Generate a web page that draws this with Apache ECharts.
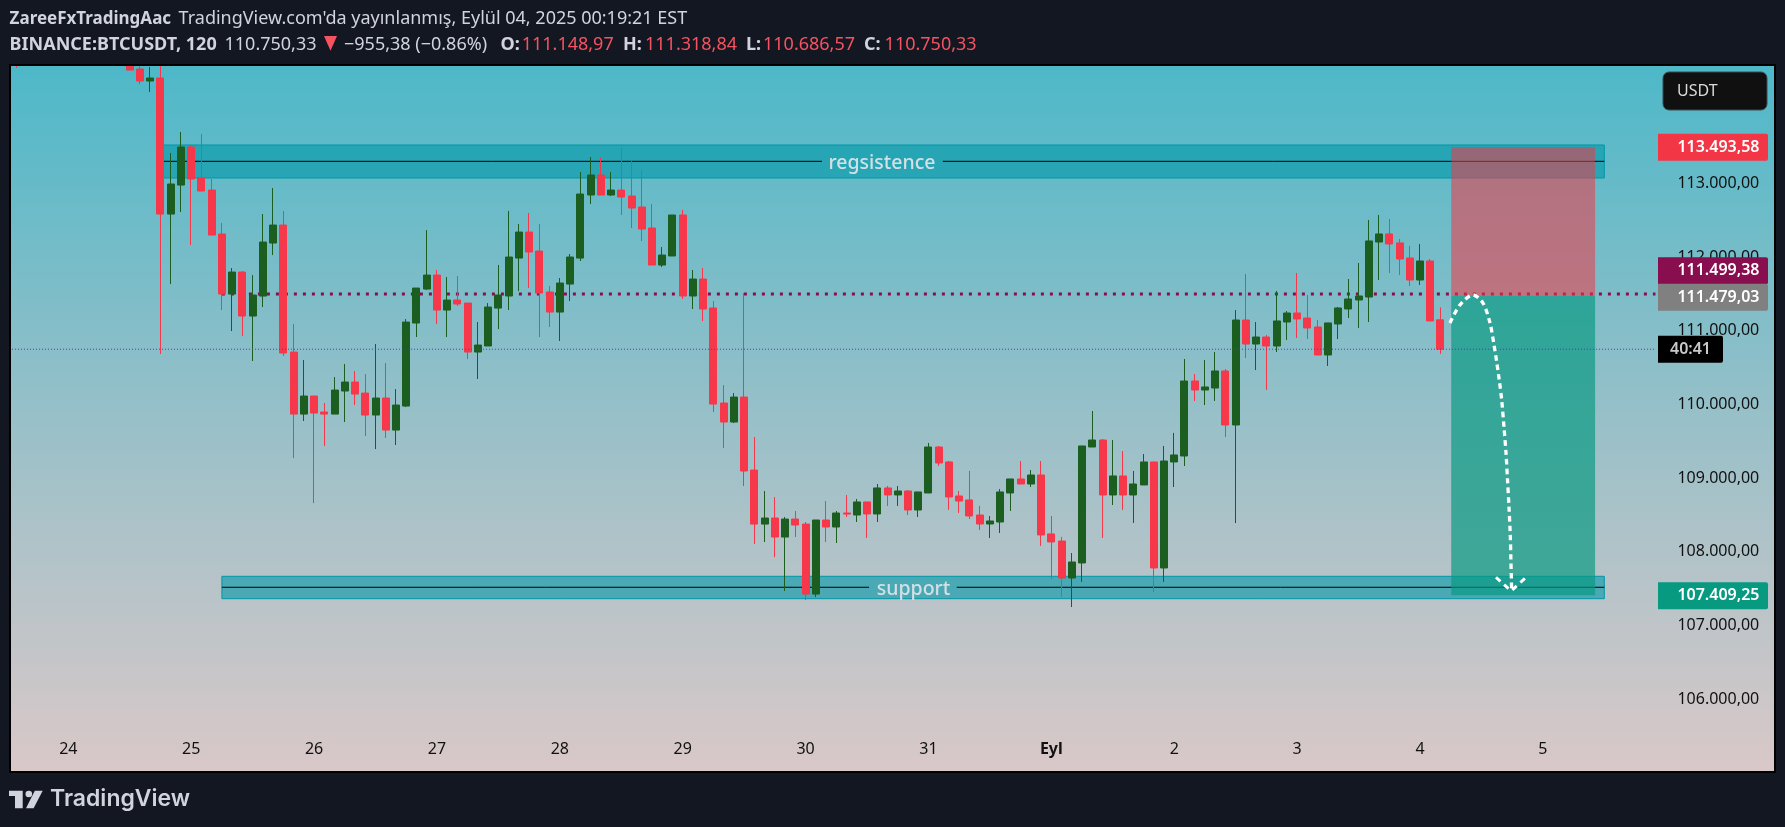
<!DOCTYPE html>
<html>
<head>
<meta charset="utf-8">
<title>BTCUSDT 120</title>
<style>
  html, body { margin: 0; padding: 0; background: #131722; }
  #chart { width: 1785px; height: 827px; }
</style>
<script src="https://cdn.jsdelivr.net/npm/echarts@6/dist/echarts.min.js"></script>
</head>
<body>
<div id="chart"></div>
<script>
// bar numbering: bar 0 is the 24 label, one bar = 120 min. bars -5 .. 166 are on screen
var firstBar = -5;
var lastBar = 166;

// from bar -5 (only its wick shows at the top), bars -4..5 are off the picture
var opens = [114900, null, null, null, null, null, null, null, null, null, null,
  114800, 114554, 114391, 114432, 112585, 112979, 113495, 113074, 112911, 112314,
  111499, 111798, 111201, 111472, 112192, 112436, 110712, 109870, 110115, 109898,
  109870, 110183, 110305, 110155, 109857, 110088, 109653, 109979, 111106, 111567,
  111757, 111282, 111418, 111377, 110712, 110794, 111309, 111473, 111988, 112341,
  112083, 111527, 111255, 111635, 111988, 112844, 113115, 112844, 112911, 112830,
  112681, 112396, 111893, 112016, 112572, 111473, 111703, 111310, 110020, 109762,
  110101, 109110, 108377, 108459, 108201, 108445, 108377, 107427, 108432, 108337,
  108527, 108500, 108677, 108514, 108867, 108772, 108826, 108568, 108799, 109423,
  109220, 108758, 108704, 108500, 108378, 108405, 108799, 108989, 108921, 109043,
  108243, 108147, 107645, 107849, 109423, 109518, 108772, 109030, 108772, 108908,
  109220, 107781, 109220, 109301, 110319, 110197, 110224, 110455, 109722, 111147,
  110821, 110916, 110794, 111120, 111242, 111174, 111052, 110672, 111093, 111297,
  111419, 111459, 112206, 112315, 112193, 111989, 111690, 111948, 111148.97];
var closes = [114800, null, null, null, null, null, null, null, null, null, null,
  114540, 114391, 114432, 112585, 112993, 113495, 113061, 112898, 112300, 111499,
  111798, 111201, 111486, 112205, 112436, 110699, 109870, 110115, 109884, 109870,
  110196, 110305, 110142, 109857, 110088, 109653, 109993, 111119, 111581, 111757,
  111282, 111418, 111364, 110712, 110807, 111323, 111486, 112002, 112341, 112070,
  111513, 111255, 111649, 112002, 112857, 113115, 112844, 112911, 112816, 112667,
  112382, 111893, 112029, 112572, 111473, 111703, 111296, 110006, 109762, 110101,
  109097, 108377, 108459, 108201, 108445, 108364, 107427, 108432, 108337, 108527,
  108513, 108677, 108514, 108867, 108772, 108826, 108568, 108813, 109423, 109206,
  108745, 108690, 108487, 108378, 108419, 108813, 108989, 108921, 109043, 108229,
  108134, 107645, 107862, 109437, 109518, 108772, 109030, 108772, 108921, 109220,
  107781, 109233, 109315, 110319, 110197, 110238, 110455, 109722, 111147, 110821,
  110916, 110794, 111134, 111242, 111161, 111039, 110672, 111107, 111310, 111432,
  111473, 112220, 112315, 112179, 111975, 111690, 111948, 111134, 110750.33];
var highs = [115000, null, null, null, null, null, null, null, null, null, null,
  114850, 114610, 114581, 114700, 113414, 113699, 113522, 113671, 113061, 112463,
  111852, 111812, 111757, 112586, 112938, 112626, 111092, 110604, 110115, 110020,
  110373, 110549, 110454, 110413, 110821, 110563, 110210, 111160, 111581, 112368,
  111825, 111730, 111744, 111377, 111119, 111377, 111893, 112626, 112450, 112599,
  112450, 111608, 111717, 112043, 113156, 113359, 113359, 113156, 113482, 113305,
  113183, 112721, 112138, 112572, 112640, 111826, 111853, 111405, 110264, 110156,
  111513, 109558, 108825, 108744, 108473, 108554, 108405, 108432, 108690, 108554,
  108771, 108718, 108677, 108921, 108894, 108894, 108840, 108813, 109478, 109437,
  109233, 108826, 109098, 108623, 108487, 108853, 108989, 109233, 109111, 109233,
  108487, 108202, 107984, 109437, 109912, 109532, 109518, 109369, 109098, 109328,
  109220, 109437, 109614, 110618, 110414, 110604, 110713, 110482, 111283, 111772,
  111120, 110944, 111541, 111269, 111785, 111487, 111147, 111107, 111324, 111704,
  111921, 112505, 112573, 112518, 112247, 112152, 112179, 111975, 111318.84];
var lows = [114572, null, null, null, null, null, null, null, null, null, null,
  114540, 114350, 114242, 110685, 111635, 112613, 112165, 112898, 112300, 111282,
  110997, 110929, 110590, 111323, 112029, 110658, 109273, 109776, 108662, 109436,
  109870, 109762, 109993, 109572, 109395, 109545, 109450, 109965, 110916, 111554,
  111092, 110916, 111337, 110617, 110346, 110794, 111024, 111283, 111540, 111581,
  110916, 111052, 110862, 111405, 111948, 112721, 112844, 112830, 112572, 112396,
  112219, 111893, 111866, 112016, 111432, 111296, 111133, 109898, 109409, 109748,
  108893, 108106, 108133, 107929, 107468, 108201, 107346, 107386, 108133, 108120,
  108473, 108405, 108188, 108405, 108623, 108623, 108500, 108473, 108799, 109166,
  108568, 108528, 108446, 108297, 108188, 108256, 108555, 108921, 108880, 108080,
  107632, 107387, 107251, 107591, 109423, 108188, 108636, 108568, 108392, 108908,
  107455, 107591, 108880, 109165, 110048, 109993, 110048, 109559, 108391, 110631,
  110468, 110197, 110713, 110876, 110903, 110889, 110672, 110523, 110889, 111174,
  111039, 111120, 111690, 111785, 111758, 111609, 111622, 111134, 110686.57];

var dayBars = [0, 12, 24, 36, 48, 60, 72, 84, 96, 108, 120, 132, 144];
var dayLabels = ['24', '25', '26', '27', '28', '29', '30', '31', 'Eyl', '2', '3', '4', '5'];
var priceTicks = [106000, 107000, 108000, 109000, 110000, 111000, 112000, 113000];

// drawn zones: start bar, end bar, top, bottom, middle line, gap start, gap end, label bar
var zoneNames = ['regsistence', 'support'];
var resistanceZone = [9, 150, 113523, 113075, 113301, 73.6, 85.4, 79.46];
var supportZone = [15, 150, 107668, 107364, 107519, 78.2, 86.76, 82.54];

// short position tool
var positionBars = [135.05, 149.1];
var stopPrice = 113493.58;
var entryPrice = 111479.03;
var targetPrice = 107409.25;

var pivotPrice = 111499.38;
var pivotBars = [15, 155];
var lastPrice = 110750.33;
var lastPriceBars = [-5.5, 155];

// hand drawn dashed path
var curveBars = [134.93, 135.9, 137.18, 138.15, 138.84, 139.23, 139.49, 139.74, 139.98, 140.2, 140.4, 140.55, 140.69, 140.81, 140.88, 140.95];
var curvePrices = [111106, 111351, 111487, 111378, 111106, 110808, 110581, 110333, 110061, 109699, 109342, 108975, 108613, 108256, 107890, 107482];
var arrowBars = [139.42, 140.9, 142.26];
var arrowPrices = [107655, 107469, 107641];

var tagPrices = [113493.58, 111499.38, 111479.03, 107409.25, 110750.33];
var tagTexts = ['113.493,58', '111.499,38', '111.479,03', '107.409,25', '40:41'];

// ----- build -----
var categories = [];
for (var b = firstBar; b <= lastBar; b++) categories.push(String(b));

var candles = [];
for (var k = 0; k < categories.length; k++) {
  candles.push(k < opens.length && opens[k] != null ? [opens[k], closes[k], lows[k], highs[k]] : '-');
}

function pairs(xs, ys) {
  var out = [];
  for (var n = 0; n < xs.length; n++) out.push([xs[n], ys[n]]);
  return out;
}

function fmtPrice(v) {
  return String(v).replace(/\B(?=(\d{3})+$)/g, '.') + ',00';
}

var FONT = '"Noto Sans", sans-serif';
var RED = '#F7374A';
var GREEN = '#1B5E20';
var HEAD = '#D1D4DC';
var HEADRED = '#F7525F';

var tagStyles = [
  { fill: '#F23645', dy: 0, w: 110, color: '#fff' },
  { fill: '#880E4F', dy: -23.4, w: 110, color: '#fff' },
  { fill: '#808080', dy: 1.6, w: 110, color: '#fff' },
  { fill: '#089981', dy: 0.5, w: 110, color: '#fff' },
  { fill: '#000000', dy: 0, w: 65, color: '#c9c9c9' }
];

function renderZone(params, api) {
  var p0 = api.coord([api.value(0), api.value(2)]);
  var p1 = api.coord([api.value(1), api.value(3)]);
  var midA = api.coord([api.value(0), api.value(4)]);
  var gapA = api.coord([api.value(5), api.value(4)]);
  var gapB = api.coord([api.value(6), api.value(4)]);
  var midB = api.coord([api.value(1), api.value(4)]);
  var lab = api.coord([api.value(7), api.value(4)]);
  return {
    type: 'group',
    children: [
      { type: 'rect', shape: { x: p0[0], y: p0[1], width: p1[0] - p0[0], height: p1[1] - p0[1] },
        style: { fill: 'rgba(0,151,167,0.6)', stroke: '#0097A7', lineWidth: 1 } },
      { type: 'line', shape: { x1: midA[0], y1: midA[1], x2: gapA[0], y2: gapA[1] },
        style: { stroke: '#000', lineWidth: 1 } },
      { type: 'line', shape: { x1: gapB[0], y1: gapB[1], x2: midB[0], y2: midB[1] },
        style: { stroke: '#000', lineWidth: 1 } },
      { type: 'text', style: { x: lab[0], y: lab[1] + 2, text: zoneNames[params.dataIndex],
        fill: '#D3E0E4', font: '500 19.5px ' + FONT, align: 'center', verticalAlign: 'middle' } }
    ]
  };
}

function renderPosition(params, api) {
  var p0 = api.coord([api.value(0), api.value(2)]);
  var p1 = api.coord([api.value(1), api.value(3)]);
  return {
    type: 'rect',
    shape: { x: p0[0], y: p0[1], width: p1[0] - p0[0], height: p1[1] - p0[1] },
    style: { fill: params.dataIndex === 0 ? 'rgba(242,54,69,0.55)' : 'rgba(8,153,129,0.68)' }
  };
}

function renderTag(params, api) {
  var s = tagStyles[params.dataIndex];
  var y = api.coord([0, api.value(0)])[1] + s.dy;
  var isTimer = params.dataIndex === 4;
  return {
    type: 'group',
    children: [
      { type: 'rect', shape: { x: 1658, y: y - 13.5, width: s.w, height: 27, r: [0, 2, 2, 0] }, style: { fill: s.fill } },
      { type: 'text', style: { x: isTimer ? 1690.5 : 1759.5, y: y, text: tagTexts[params.dataIndex], fill: s.color,
        font: '600 16px ' + FONT, align: isTimer ? 'center' : 'right', verticalAlign: 'middle' } }
    ]
  };
}

function headerText(x, y, text, color, bold, size) {
  return { type: 'text', z: 20, x: x, y: y,
    style: { text: text, fill: color, font: (bold ? 'bold ' : '') + (size || 18) + 'px ' + FONT, verticalAlign: 'middle' } };
}

var chart = echarts.init(document.getElementById('chart'));
chart.setOption({
  animation: false,
  backgroundColor: '#131722',
  grid: { left: 11.98, top: 66, width: 1761.28, height: 705 },
  xAxis: [{
    type: 'category',
    data: categories,
    boundaryGap: true,
    axisLine: { show: false },
    axisTick: { show: false },
    splitLine: { show: false },
    axisLabel: {
      inside: true,
      margin: 14,
      color: '#111',
      fontFamily: FONT,
      fontSize: 16,
      interval: function (idx) { return dayBars.indexOf(idx + firstBar) >= 0; },
      formatter: function (v, idx) {
        var label = dayLabels[dayBars.indexOf(idx + firstBar)];
        return label === 'Eyl' ? '{b|Eyl}' : label;
      },
      rich: { b: { fontWeight: 'bold', fontSize: 16, fontFamily: FONT, color: '#111' } }
    }
  }, {
    type: 'value',
    min: firstBar - 0.5,
    max: lastBar + 0.5,
    show: false,
    splitLine: { show: false }
  }],
  yAxis: {
    type: 'value',
    position: 'right',
    min: 105025,
    max: 114595,
    axisLine: { show: false },
    axisTick: { show: false },
    splitLine: { show: false },
    axisLabel: {
      inside: true,
      margin: 14,
      color: '#111',
      fontFamily: FONT,
      fontSize: 16,
      customValues: priceTicks,
      formatter: fmtPrice
    }
  },
  graphic: [
    // plot background with black frame
    { type: 'rect', z: -1, shape: { x: 10, y: 65, width: 1765, height: 707 },
      style: { stroke: '#000', lineWidth: 2,
        fill: new echarts.graphic.LinearGradient(0, 0, 0, 1, [
          { offset: 0, color: '#4DB8C8' },
          { offset: 0.5, color: '#98C0C8' },
          { offset: 1, color: '#DAC8C8' }
        ]) } },
    // candles above the plot top are cut off by this strip
    { type: 'rect', z: 15, shape: { x: 0, y: 0, width: 1785, height: 64 }, style: { fill: '#131722' } },
    { type: 'rect', z: 15, shape: { x: 9, y: 64, width: 1767, height: 2 }, style: { fill: '#000' } },
    // header
    headerText(9.6, 19.2, 'ZareeFxTradingAac', HEAD, true, 17),
    headerText(178.6, 19.2, "TradingView.com'da yayınlanmış, Eylül 04, 2025 00:19:21 EST", HEAD, false),
    headerText(9.6, 44.6, 'BINANCE:BTCUSDT, 120', HEAD, true),
    headerText(224.5, 44.6, '110.750,33', HEAD, false),
    { type: 'polygon', z: 20, shape: { points: [[324, 36], [337, 36], [330.5, 50.7]] }, style: { fill: '#F7525F' } },
    headerText(344, 44.6, '−955,38 (−0.86%)', HEAD, false),
    headerText(500.6, 44.6, 'O:', HEAD, true),
    headerText(521.7, 44.6, '111.148,97', HEADRED, false),
    headerText(623, 44.6, 'H:', HEAD, true),
    headerText(645, 44.6, '111.318,84', HEADRED, false),
    headerText(746, 44.6, 'L:', HEAD, true),
    headerText(763, 44.6, '110.686,57', HEADRED, false),
    headerText(864, 44.6, 'C:', HEAD, true),
    headerText(884.6, 44.6, '110.750,33', HEADRED, false),
    // USDT button
    { type: 'rect', z: 20, shape: { x: 1663, y: 72, width: 104, height: 38, r: 6 },
      style: { fill: '#101010', stroke: '#3C4A50', lineWidth: 1 } },
    { type: 'text', z: 21, x: 1677, y: 91, style: { text: 'USDT', fill: '#DADADA', font: '16px ' + FONT, verticalAlign: 'middle' } },
    // TradingView logo
    { type: 'polygon', z: 20, shape: { points: [[9, 790.7], [22.7, 790.7], [22.7, 808.3], [15, 808.3], [15, 796], [9, 796]] }, style: { fill: HEAD } },
    { type: 'circle', z: 20, shape: { cx: 28.8, cy: 794, r: 3.3 }, style: { fill: HEAD } },
    { type: 'polygon', z: 20, shape: { points: [[34.8, 790.7], [42.7, 790.7], [33.6, 808.3], [26, 808.3]] }, style: { fill: HEAD } },
    { type: 'text', z: 20, x: 50, y: 799.5, style: { text: 'TradingView', fill: HEAD, font: '600 23px Inter, sans-serif', verticalAlign: 'middle' } }
  ],
  series: [
    {
      type: 'custom', z: 1, silent: true, xAxisIndex: 1, yAxisIndex: 0,
      renderItem: renderZone,
      data: [resistanceZone, supportZone]
    },
    {
      type: 'line', z: 2, silent: true, xAxisIndex: 1, yAxisIndex: 0, showSymbol: false,
      lineStyle: { color: '#880E4F', width: 3, type: [3, 6] },
      data: [[pivotBars[0], pivotPrice], [pivotBars[1], pivotPrice]]
    },
    {
      type: 'candlestick', z: 3, silent: true, xAxisIndex: 0, yAxisIndex: 0,
      barWidth: 7.5,
      itemStyle: { color: GREEN, color0: RED, borderColor: GREEN, borderColor0: RED, borderWidth: 1 },
      data: candles
    },
    {
      type: 'custom', z: 4, silent: true, xAxisIndex: 1, yAxisIndex: 0,
      renderItem: renderPosition,
      data: [
        [positionBars[0], positionBars[1], stopPrice, entryPrice],
        [positionBars[0], positionBars[1], entryPrice, targetPrice]
      ]
    },
    {
      type: 'line', z: 5, silent: true, xAxisIndex: 1, yAxisIndex: 0, showSymbol: false,
      lineStyle: { color: '#5E35B1', width: 1, type: [1, 2] },
      data: [[lastPriceBars[0], lastPrice], [lastPriceBars[1], lastPrice]]
    },
    {
      type: 'line', z: 6, silent: true, xAxisIndex: 1, yAxisIndex: 0, showSymbol: false, smooth: 0.3,
      lineStyle: { color: '#fff', width: 3.3, type: [5.5, 4] },
      data: pairs(curveBars, curvePrices)
    },
    {
      type: 'line', z: 6, silent: true, xAxisIndex: 1, yAxisIndex: 0, showSymbol: false,
      lineStyle: { color: '#fff', width: 3, type: [6, 5] },
      data: pairs(arrowBars, arrowPrices)
    },
    {
      type: 'custom', z: 10, silent: true, xAxisIndex: 1, yAxisIndex: 0,
      renderItem: renderTag,
      data: tagPrices.map(function (p) { return [p]; }),
      encode: { y: 0 }
    }
  ]
});
</script>
</body>
</html>
